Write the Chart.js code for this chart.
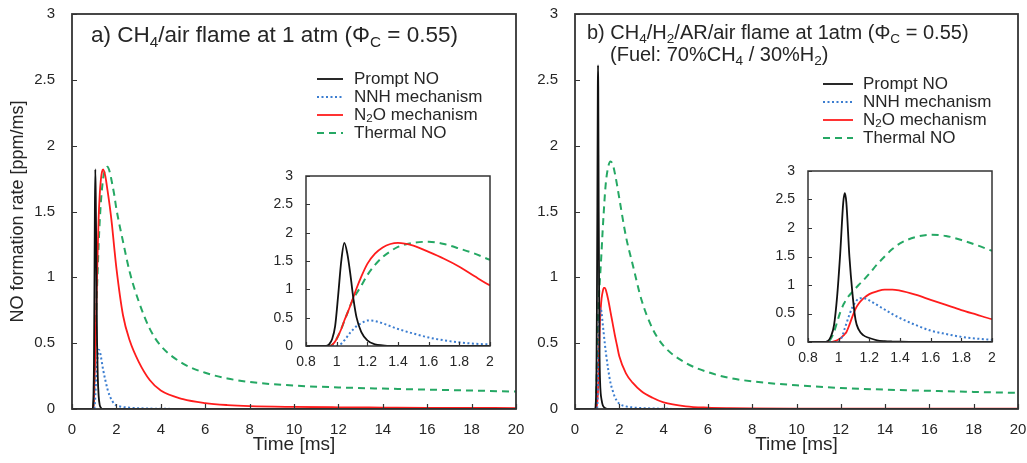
<!DOCTYPE html>
<html>
<head>
<meta charset="utf-8">
<script src="https://cdn.jsdelivr.net/npm/chart.js@4.4.0/dist/chart.umd.min.js"></script>
<style>
  body { margin: 0; background: #fff; }
  #wrap { position: relative; width: 1027px; height: 463px; overflow: hidden; }
  #wrap canvas { position: absolute; }
</style>
</head>
<body>
<div id="wrap">
  <canvas id="mainA" width="525" height="463" style="left:0;top:0;width:525px;height:463px"></canvas>
  <canvas id="mainB" width="507" height="463" style="left:520px;top:0;width:507px;height:463px"></canvas>
  <canvas id="insetA" width="240" height="220" style="left:260px;top:160px;width:240px;height:220px"></canvas>
  <canvas id="insetB" width="240" height="220" style="left:762px;top:155px;width:240px;height:220px"></canvas>
</div>
<script>
// ---------- Data ----------
const seriesNames = ["Prompt NO", "NNH mechanism", "N_{2}O mechanism", "Thermal NO"];

const mainXTicks = [0, 2, 4, 6, 8, 10, 12, 14, 16, 18, 20];
const mainYTicks = [0, 0.5, 1, 1.5, 2, 2.5, 3];
const insetXTicks = [0.8, 1, 1.2, 1.4, 1.6, 1.8, 2];
const insetYTicks = [0, 0.5, 1, 1.5, 2, 2.5, 3];

// a) CH4/air
const timeA = [0, 0.8, 0.9, 0.93, 0.95, 0.97, 0.99, 1.01, 1.03, 1.05,
  1.07, 1.09, 1.11, 1.13, 1.16, 1.2, 1.25, 1.3, 1.35, 1.4,
  1.5, 1.6, 1.7, 1.8, 1.9, 2.0, 2.3, 2.6, 3.0, 3.5,
  4, 5, 6, 7, 8, 10, 12, 14, 16, 18, 20];
const promptA = [0, 0, 0, 0, 0.03, 0.12, 0.35, 0.9, 1.5, 1.82,
  1.62, 1.25, 0.82, 0.5, 0.25, 0.1, 0.03, 0.01, 0, 0,
  0, 0, 0, 0, 0, 0, 0, 0, 0, 0,
  0, 0, 0, 0, 0, 0, 0, 0, 0, 0, 0];
const nnhA = [0, 0, 0, 0, 0, 0, 0, 0.01, 0.04, 0.1,
  0.17, 0.24, 0.3, 0.35, 0.4, 0.45, 0.44, 0.4, 0.35, 0.3,
  0.22, 0.15, 0.1, 0.065, 0.04, 0.028, 0.015, 0.01, 0.006, 0.003,
  0.002, 0, 0, 0, 0, 0, 0, 0, 0, 0, 0];
const n2oA = [0, 0, 0, 0, 0, 0.02, 0.08, 0.18, 0.3, 0.45,
  0.58, 0.72, 0.87, 1.02, 1.22, 1.45, 1.63, 1.74, 1.8, 1.82,
  1.77, 1.66, 1.54, 1.4, 1.23, 1.07, 0.71, 0.52, 0.36, 0.22,
  0.14, 0.075, 0.045, 0.03, 0.022, 0.016, 0.013, 0.011, 0.009, 0.008, 0.007];
const thermalA = [0, 0, 0, 0, 0, 0.02, 0.08, 0.18, 0.3, 0.44,
  0.58, 0.72, 0.84, 0.93, 1.06, 1.25, 1.43, 1.57, 1.67, 1.75,
  1.82, 1.84, 1.8, 1.72, 1.63, 1.52, 1.27, 1.04, 0.82, 0.61,
  0.48, 0.345, 0.275, 0.232, 0.205, 0.178, 0.164, 0.155, 0.147, 0.14, 0.132];

// b) CH4/H2/AR/air
const timeB = [0, 0.8, 0.9, 0.93, 0.95, 0.97, 0.99, 1.01, 1.03, 1.04,
  1.05, 1.07, 1.09, 1.11, 1.13, 1.16, 1.2, 1.25, 1.3, 1.35,
  1.4, 1.5, 1.6, 1.7, 1.8, 1.9, 2.0, 2.3, 2.6, 3.0,
  3.5, 4, 5, 6, 7, 8, 10, 12, 14, 16, 18, 20];
const promptB = [0, 0, 0, 0.02, 0.1, 0.3, 0.8, 1.55, 2.45, 2.61,
  2.45, 1.5, 0.85, 0.39, 0.22, 0.12, 0.07, 0.03, 0.015, 0.008,
  0.004, 0, 0, 0, 0, 0, 0, 0, 0, 0,
  0, 0, 0, 0, 0, 0, 0, 0, 0, 0, 0, 0];
const nnhB = [0, 0, 0, 0, 0, 0, 0, 0.03, 0.15, 0.24,
  0.32, 0.48, 0.61, 0.7, 0.76, 0.77, 0.73, 0.65, 0.57, 0.49,
  0.42, 0.3, 0.2, 0.14, 0.09, 0.06, 0.04, 0.02, 0.012, 0.007,
  0.004, 0.002, 0, 0, 0, 0, 0, 0, 0, 0, 0, 0];
const n2oB = [0, 0, 0, 0, 0, 0.01, 0.03, 0.06, 0.11, 0.14,
  0.17, 0.3, 0.45, 0.58, 0.67, 0.76, 0.84, 0.89, 0.92, 0.92,
  0.9, 0.83, 0.74, 0.65, 0.56, 0.48, 0.4, 0.27, 0.2, 0.135,
  0.085, 0.05, 0.02, 0.01, 0.006, 0.004, 0.003, 0.003, 0.002, 0.002, 0.002, 0.002];
const thermalB = [0, 0, 0, 0.01, 0.06, 0.18, 0.35, 0.52, 0.65, 0.7,
  0.75, 0.82, 0.88, 0.94, 1.0, 1.08, 1.2, 1.36, 1.5, 1.63,
  1.73, 1.84, 1.88, 1.86, 1.79, 1.7, 1.6, 1.31, 1.1, 0.83,
  0.61, 0.48, 0.35, 0.28, 0.235, 0.21, 0.18, 0.16, 0.147, 0.138, 0.13, 0.122];

// ---------- Styles ----------
const FONT = '"Liberation Sans", Arial, sans-serif';
const TEXT = "#262626";
const lineStyles = [
  { color: "#111111", width: 1.8, dash: [] },
  { color: "#3b7dd0", width: 2, dash: [2, 2.5] },
  { color: "#ff1c1c", width: 1.8, dash: [] },
  { color: "#25a864", width: 2, dash: [7, 5] }
];

// "N_{2}O" -> [["N", false], ["2", true], ["O", false]]
function richParts(str) {
  return str.split(/_\{([^}]*)\}/).map((s, i) => [s, i % 2 === 1]).filter(p => p[0]);
}
const plain = str => str.replace(/_\{([^}]*)\}/g, "$1");

function drawRich(ctx, str, x, y, size) {
  richParts(str).forEach(([txt, sub]) => {
    const fs = sub ? size * 0.68 : size;
    ctx.font = `${fs}px ${FONT}`;
    ctx.fillText(txt, x, sub ? y + size * 0.22 : y);
    x += ctx.measureText(txt).width;
  });
}

// ---------- Plugin: frame, inner ticks, titles, legend ----------
const panelPlugin = {
  id: "panel",
  beforeDatasetsDraw(chart, args, o) {
    if (!o.whiteArea) return;
    const { ctx, chartArea: a } = chart;
    ctx.save();
    ctx.fillStyle = "#fff";
    ctx.fillRect(a.left, a.top, a.right - a.left, a.bottom - a.top);
    ctx.restore();
  },
  afterDatasetsDraw(chart, args, o) {
    const { ctx, chartArea: a, scales: { x, y } } = chart;
    ctx.save();
    ctx.strokeStyle = "#333";
    ctx.lineWidth = 1.2;
    ctx.beginPath();
    x.ticks.forEach(t => {
      const px = Math.round(x.getPixelForValue(t.value)) + 0.5;
      ctx.moveTo(px, a.bottom);
      ctx.lineTo(px, a.bottom - o.tick);
    });
    y.ticks.forEach(t => {
      const py = Math.round(y.getPixelForValue(t.value)) + 0.5;
      ctx.moveTo(a.left, py);
      ctx.lineTo(a.left + o.tick, py);
    });
    ctx.stroke();
    ctx.lineWidth = o.frame;
    ctx.strokeRect(a.left, a.top, a.right - a.left, a.bottom - a.top);

    ctx.fillStyle = TEXT;
    ctx.textBaseline = "alphabetic";
    ctx.textAlign = "left";
    (o.titles || []).forEach(t => drawRich(ctx, t.text, t.x, t.y, t.size));

    const lg = o.legend;
    if (lg) {
      chart.data.datasets.forEach((ds, i) => {
        const cy = lg.y + i * lg.dy;
        ctx.save();
        ctx.strokeStyle = ds.borderColor;
        ctx.lineWidth = ds.borderWidth;
        ctx.setLineDash(ds.borderDash);
        ctx.beginPath();
        ctx.moveTo(lg.x0, cy);
        ctx.lineTo(lg.x1, cy);
        ctx.stroke();
        ctx.restore();
        ctx.textBaseline = "middle";
        drawRich(ctx, seriesNames[i], lg.tx, cy, lg.size);
      });
    }
    ctx.restore();
  }
};
Chart.register(panelPlugin);

function axis(a) {
  return {
    type: "linear",
    min: a.ticks[0],
    max: a.ticks[a.ticks.length - 1],
    afterBuildTicks: s => { s.ticks = a.ticks.map(v => ({ value: v })); },
    afterFit: s => {
      if (s.isHorizontal()) s.height = a.size; else s.width = a.size;
      // layout padding alone decides the chart area
      s.paddingTop = s.paddingBottom = s.paddingLeft = s.paddingRight = 0;
    },
    grid: { display: false, drawTicks: false },
    border: { display: false },
    ticks: {
      autoSkip: false, maxRotation: 0, color: TEXT, padding: a.pad,
      font: { family: FONT, size: a.font },
      callback: v => String(+Number(v).toFixed(2))
    },
    title: a.title
      ? { display: true, text: a.title, color: TEXT, font: { family: FONT, size: a.titleSize }, padding: a.titlePad }
      : { display: false }
  };
}

function makeChart(id, cfg) {
  return new Chart(document.getElementById(id), {
    type: "line",
    data: {
      datasets: cfg.series.map((vals, i) => ({
        label: plain(seriesNames[i]),
        data: cfg.times.map((t, k) => ({ x: t, y: vals[k] })),
        borderColor: lineStyles[i].color,
        borderWidth: lineStyles[i].width,
        borderDash: lineStyles[i].dash,
        pointRadius: 0,
        fill: false,
        cubicInterpolationMode: "monotone"
      }))
    },
    options: {
      responsive: false,
      animation: false,
      events: [],
      layout: { padding: cfg.pad },
      plugins: { legend: { display: false }, tooltip: { enabled: false }, panel: cfg.panel },
      scales: { x: axis(cfg.x), y: axis(cfg.y) }
    }
  });
}

// ---------- Main panels ----------
makeChart("mainA", {
  times: timeA, series: [promptA, nnhA, n2oA, thermalA],
  pad: { left: 0, top: 14, right: 9, bottom: 0 },
  x: { ticks: mainXTicks, size: 54, pad: 12, font: 15, title: "Time [ms]", titleSize: 19, titlePad: { top: 0, bottom: 7 } },
  y: { ticks: mainYTicks, size: 72, pad: 17, font: 15, title: "NO formation rate [ppm/ms]", titleSize: 18, titlePad: { top: 7, bottom: 0 } },
  panel: {
    tick: 5, frame: 1.8,
    titles: [{ text: "a) CH_{4}/air flame at 1 atm (Φ_{C} = 0.55)", x: 91, y: 42, size: 22.5 }],
    legend: { x0: 317, x1: 343, tx: 354, y: 79, dy: 18, size: 17 }
  }
});

makeChart("mainB", {
  times: timeB, series: [promptB, nnhB, n2oB, thermalB],
  pad: { left: 0, top: 14, right: 9, bottom: 0 },
  x: { ticks: mainXTicks, size: 54, pad: 12, font: 15, title: "Time [ms]", titleSize: 19, titlePad: { top: 0, bottom: 7 } },
  y: { ticks: mainYTicks, size: 55, pad: 17, font: 15 },
  panel: {
    tick: 5, frame: 1.8,
    titles: [
      { text: "b) CH_{4}/H_{2}/AR/air flame at 1atm (Φ_{C} = 0.55)", x: 67, y: 39, size: 20 },
      { text: "(Fuel: 70%CH_{4} / 30%H_{2})", x: 90, y: 61, size: 20 }
    ],
    legend: { x0: 303, x1: 333, tx: 343, y: 84, dy: 18, size: 17 }
  }
});

// ---------- Insets ----------
makeChart("insetA", {
  times: timeA, series: [promptA, nnhA, n2oA, thermalA],
  pad: { left: 0, top: 16, right: 10, bottom: 0 },
  x: { ticks: insetXTicks, size: 34, pad: 8, font: 14 },
  y: { ticks: insetYTicks, size: 46, pad: 13, font: 14 },
  panel: { tick: 4, frame: 1.5, whiteArea: true }
});

makeChart("insetB", {
  times: timeB, series: [promptB, nnhB, n2oB, thermalB],
  pad: { left: 0, top: 16, right: 10, bottom: 0 },
  x: { ticks: insetXTicks, size: 33, pad: 8, font: 14 },
  y: { ticks: insetYTicks, size: 46, pad: 13, font: 14 },
  panel: { tick: 4, frame: 1.5, whiteArea: true }
});
</script>
</body>
</html>
